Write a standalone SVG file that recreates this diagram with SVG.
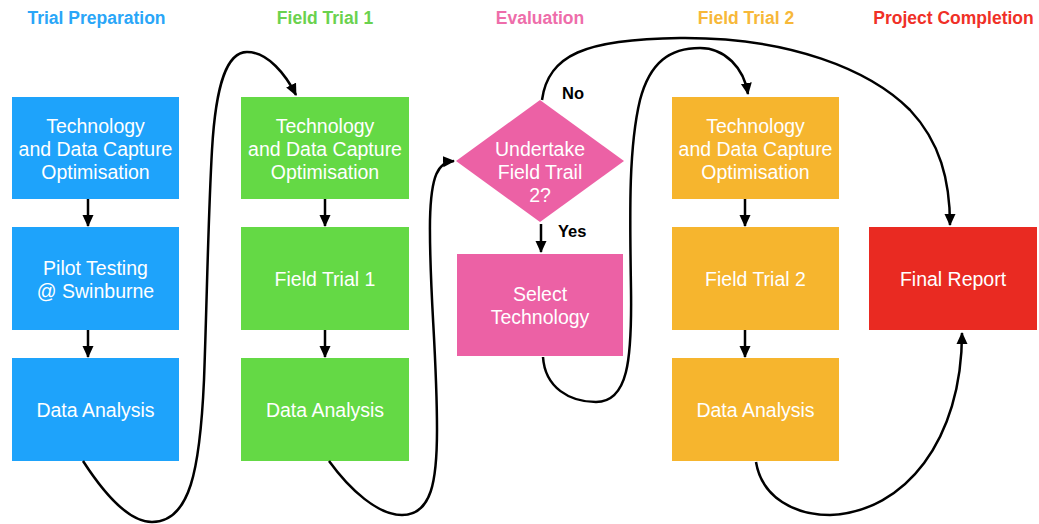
<svg xmlns="http://www.w3.org/2000/svg" width="1039" height="524" viewBox="0 0 1039 524">
  <defs>
    <marker id="arrow" markerUnits="userSpaceOnUse" markerWidth="12" markerHeight="12" viewBox="0 0 12 12" refX="11" refY="6" orient="auto">
      <path d="M0,0.5 L12,6 L0,11.5 Z" fill="#000"/>
    </marker>
    <style>
      .hdr { font-family: "Liberation Sans", Arial, sans-serif; font-weight: bold; font-size: 17.5px; text-anchor: middle; }
      .lbl { font-family: "Liberation Sans", Arial, sans-serif; font-size: 19.5px; fill: #fff; text-anchor: middle; }
      .yn { font-family: "Liberation Sans", Arial, sans-serif; font-weight: bold; font-size: 16.5px; fill: #000; }
      .con { fill: none; stroke: #000; stroke-width: 2.5; }
      .blue { fill: #1EA3FB; }
      .green { fill: #64D945; }
      .pink { fill: #EC61A5; }
      .orange { fill: #F6B52E; }
      .red { fill: #E92A22; }
    </style>
  </defs>
  <rect width="1039" height="524" fill="#fff"/>

  <!-- Column headers -->
  <g id="headers">
    <text class="hdr" x="96.5" y="24" fill="#2AA6F8">Trial Preparation</text>
    <text class="hdr" x="325" y="24" fill="#6AD24E">Field Trial 1</text>
    <text class="hdr" x="540" y="24" fill="#EE6DAA">Evaluation</text>
    <text class="hdr" x="746" y="24" fill="#F7B839">Field Trial 2</text>
    <text class="hdr" x="953.5" y="24" fill="#F03027">Project Completion</text>
  </g>

  <!-- Trial Preparation -->
  <g id="tp-optimisation">
    <rect class="blue" x="12" y="97" width="167" height="102"/>
    <text class="lbl" x="95.5" y="133">Technology</text>
    <text class="lbl" x="95.5" y="156">and Data Capture</text>
    <text class="lbl" x="95.5" y="179">Optimisation</text>
  </g>
  <g id="tp-pilot">
    <rect class="blue" x="12" y="227" width="167" height="103"/>
    <text class="lbl" x="95.5" y="275">Pilot Testing</text>
    <text class="lbl" x="95.5" y="298">@ Swinburne</text>
  </g>
  <g id="tp-analysis">
    <rect class="blue" x="12" y="358" width="167" height="103"/>
    <text class="lbl" x="95.5" y="417">Data Analysis</text>
  </g>

  <!-- Field Trial 1 -->
  <g id="ft1-optimisation">
    <rect class="green" x="241" y="97" width="168" height="102"/>
    <text class="lbl" x="325" y="133">Technology</text>
    <text class="lbl" x="325" y="156">and Data Capture</text>
    <text class="lbl" x="325" y="179">Optimisation</text>
  </g>
  <g id="ft1-trial">
    <rect class="green" x="241" y="227" width="168" height="103"/>
    <text class="lbl" x="325" y="286">Field Trial 1</text>
  </g>
  <g id="ft1-analysis">
    <rect class="green" x="241" y="358" width="168" height="103"/>
    <text class="lbl" x="325" y="417">Data Analysis</text>
  </g>

  <!-- Evaluation -->
  <g id="ev-decision">
    <polygon class="pink" points="540,100 624,161 540,222 456,161"/>
    <text class="lbl" x="540" y="156">Undertake</text>
    <text class="lbl" x="540" y="179">Field Trail</text>
    <text class="lbl" x="540" y="202">2?</text>
  </g>
  <g id="ev-select">
    <rect class="pink" x="457" y="254" width="166" height="102"/>
    <text class="lbl" x="540" y="301">Select</text>
    <text class="lbl" x="540" y="324">Technology</text>
  </g>

  <!-- Field Trial 2 -->
  <g id="ft2-optimisation">
    <rect class="orange" x="672" y="97" width="167" height="102"/>
    <text class="lbl" x="755.5" y="133">Technology</text>
    <text class="lbl" x="755.5" y="156">and Data Capture</text>
    <text class="lbl" x="755.5" y="179">Optimisation</text>
  </g>
  <g id="ft2-trial">
    <rect class="orange" x="672" y="227" width="167" height="103"/>
    <text class="lbl" x="755.5" y="286">Field Trial 2</text>
  </g>
  <g id="ft2-analysis">
    <rect class="orange" x="672" y="358" width="167" height="103"/>
    <text class="lbl" x="755.5" y="417">Data Analysis</text>
  </g>

  <!-- Project Completion -->
  <g id="pc-report">
    <rect class="red" x="869" y="227" width="168" height="103"/>
    <text class="lbl" x="953" y="286">Final Report</text>
  </g>

  <!-- Connectors -->
  <g id="connectors">
    <line class="con" x1="88" y1="199" x2="88" y2="226" marker-end="url(#arrow)"/>
    <line class="con" x1="88" y1="330" x2="88" y2="357" marker-end="url(#arrow)"/>
    <line class="con" x1="325" y1="199" x2="325" y2="226" marker-end="url(#arrow)"/>
    <line class="con" x1="325" y1="330" x2="325" y2="357" marker-end="url(#arrow)"/>
    <line class="con" x1="541" y1="224" x2="541" y2="252" marker-end="url(#arrow)"/>
    <line class="con" x1="745" y1="199" x2="745" y2="226" marker-end="url(#arrow)"/>
    <line class="con" x1="745" y1="330" x2="745" y2="357" marker-end="url(#arrow)"/>

    <!-- Trial Preparation analysis to Field Trial 1 -->
    <path class="con" d="M 83 461 C 105 495, 130 522, 152 522 C 190 522, 200 470, 204 380 C 207 300, 208 220, 212 150 C 216 80, 228 52, 247 52 C 268 52, 286 75, 296 95" marker-end="url(#arrow)"/>
    <!-- Field Trial 1 analysis to decision -->
    <path class="con" d="M 329 461 C 350 490, 378 515, 402 515 C 432 515, 437 480, 437 430 C 437 350, 429 290, 430 220 C 431 175, 438 162, 454 161" marker-end="url(#arrow)"/>
    <!-- No: straight to Final Report -->
    <path class="con" d="M 542 100 C 548 55, 585 39, 680 38 C 790 37, 870 70, 910 110 C 940 142, 950 180, 950 225" marker-end="url(#arrow)"/>
    <!-- Select Technology to Field Trial 2 -->
    <path class="con" d="M 543 357 C 545 388, 570 402, 596 402 C 628 402, 632 360, 631 290 C 630 220, 628 150, 640 100 C 650 62, 670 48, 700 48 C 725 48, 744 68, 748 94" marker-end="url(#arrow)"/>
    <!-- Field Trial 2 analysis to Final Report -->
    <path class="con" d="M 756 462 C 762 498, 795 515, 830 515 C 905 512, 962 440, 962 333" marker-end="url(#arrow)"/>
  </g>

  <!-- Decision branch labels -->
  <g id="branch-labels">
    <text class="yn" x="562" y="99">No</text>
    <text class="yn" x="558" y="237">Yes</text>
  </g>
</svg>
